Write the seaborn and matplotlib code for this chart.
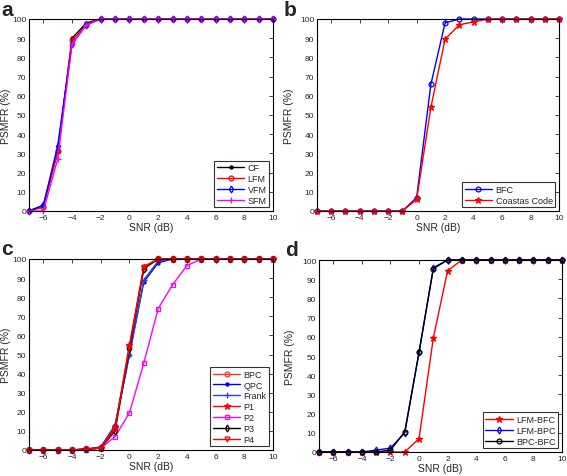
import numpy as np
import pandas as pd
import seaborn as sns
import matplotlib.pyplot as plt

snr = list(range(-7, 11))

# panel a
a_cf = [0, 3, 31, 90, 98, 100, 100, 100, 100, 100, 100, 100, 100, 100, 100, 100, 100, 100]
a_lfm = [0, 2, 31, 89, 97, 100, 100, 100, 100, 100, 100, 100, 100, 100, 100, 100, 100, 100]
a_vfm = [0, 3, 34, 87, 97, 100, 100, 100, 100, 100, 100, 100, 100, 100, 100, 100, 100, 100]
a_sfm = [0, 0, 27, 87, 97, 100, 100, 100, 100, 100, 100, 100, 100, 100, 100, 100, 100, 100]

# panel b
b_bfc = [0, 0, 0, 0, 0, 0, 0, 7, 66, 98, 100, 100, 100, 100, 100, 100, 100, 100]
b_costas = [0, 0, 0, 0, 0, 0, 0, 6, 54, 89.5, 97, 98.5, 100, 100, 100, 100, 100, 100]

# panel c
c_bpc = [0, 0, 0, 0, 0.5, 1, 12, 54, 95, 100, 100, 100, 100, 100, 100, 100, 100, 100]
c_qpc = [0, 0, 0, 0, 0.5, 1.5, 13, 50, 88, 98, 100, 100, 100, 100, 100, 100, 100, 100]
c_frank = [0, 0, 0, 0, 0.5, 1.5, 13, 50, 89, 99, 100, 100, 100, 100, 100, 100, 100, 100]
c_p1 = [0, 0, 0, 0, 0.5, 1, 12, 55, 96, 100, 100, 100, 100, 100, 100, 100, 100, 100]
c_p2 = [0, 0, 0, 0, 0, 1, 7, 19.5, 45.5, 74, 86.5, 96.5, 100, 100, 100, 100, 100, 100]
c_p3 = [0, 0, 0, 0, 0.5, 1, 10, 53, 95, 100, 100, 100, 100, 100, 100, 100, 100, 100]
c_p4 = [0, 0, 0, 0, 0.5, 1, 11, 54, 96, 100, 100, 100, 100, 100, 100, 100, 100, 100]

# panel d
d_lfm_bfc = [0, 0, 0, 0, 0, 0, 0, 7, 59.5, 94.5, 100, 100, 100, 100, 100, 100, 100, 100]
d_lfm_bpc = [0, 0, 0, 0, 1, 2, 10, 52, 96, 100, 100, 100, 100, 100, 100, 100, 100, 100]
d_bpc_bfc = [0, 0, 0, 0, 0, 1, 10.5, 52, 95.5, 100, 100, 100, 100, 100, 100, 100, 100, 100]

sns.set_style("white")
plt.rcParams['font.family'] = ['Liberation Sans', 'DejaVu Sans']

W, H = 567, 477
fig = plt.figure(figsize=(W / 100, H / 100), dpi=100)


def make_ax(l, t, r, b):
    return fig.add_axes([l / W, 1 - b / H, (r - l) / W, (b - t) / H])


# letter, letter position (px), axes box (px), series: (label, values, color, marker, open?)
panels = [
    ("a", (1, 1), (29, 20, 273, 212), [
        ("CF", a_cf, "black", ".", False),
        ("LFM", a_lfm, "red", "o", True),
        ("VFM", a_vfm, "blue", "d", True),
        ("SFM", a_sfm, "magenta", "+", False),
    ]),
    ("b", (284, 1), (317, 20, 559, 212), [
        ("BFC", b_bfc, "blue", "o", True),
        ("Coastas Code", b_costas, "red", "*", False),
    ]),
    ("c", (1, 240), (29, 260, 273, 451), [
        ("BPC", c_bpc, "#ff3030", "o", True),
        ("QPC", c_qpc, "blue", ".", False),
        ("Frank", c_frank, "#3040e0", "+", False),
        ("P1", c_p1, "red", "*", False),
        ("P2", c_p2, "magenta", "s", True),
        ("P3", c_p3, "black", "d", True),
        ("P4", c_p4, "red", "v", True),
    ]),
    ("d", (285, 241), (319, 261, 562, 453), [
        ("LFM-BFC", d_lfm_bfc, "red", "*", False),
        ("LFM-BPC", d_lfm_bpc, "blue", "d", True),
        ("BPC-BFC", d_bpc_bfc, "black", "o", True),
    ]),
]

for letter, lpos, box, series in panels:
    ax = make_ax(*box)
    for name, vals, col, mk, hollow in series:
        df = pd.DataFrame({"SNR": snr, "PSMFR": vals})
        ms = 3.5 if mk in ("o", "d", "s", "v") else 4.5
        sns.lineplot(data=df, x="SNR", y="PSMFR", ax=ax, color=col, marker=mk,
                     markersize=ms, markeredgewidth=0.9,
                     markerfacecolor="none" if hollow else col,
                     markeredgecolor=col, linewidth=1.0, label=name,
                     clip_on=False)
    ax.set_xlim(-7, 10)
    ax.set_ylim(0, 100)
    ax.set_xticks([-6, -4, -2, 0, 2, 4, 6, 8, 10])
    ax.set_yticks(range(0, 101, 10))
    ax.tick_params(direction="in", top=True, right=True, length=3,
                   labelsize=6, width=0.6, pad=2)
    for s in ax.spines.values():
        s.set_color("black")
        s.set_linewidth(0.8)
    ax.set_xlabel("SNR (dB)", fontsize=7.5, labelpad=1)
    ax.set_ylabel("PSMFR (%)", fontsize=7.5)
    w = box[2] - box[0]
    ax.yaxis.set_label_coords(-(box[0] - lpos[0] - 10) / w, 0.5)
    leg = ax.legend(loc="lower right", fontsize=6.5, frameon=True, fancybox=False,
                    borderaxespad=0.4, handlelength=3, handletextpad=0.4,
                    labelspacing=0.2, borderpad=0.3)
    leg.get_frame().set_edgecolor("black")
    leg.get_frame().set_linewidth(0.8)
    fig.text(lpos[0] / W, 1 - lpos[1] / H, letter, fontsize=15,
             fontweight="bold", ha="left", va="top")

fig.savefig("out.png", dpi=100)
